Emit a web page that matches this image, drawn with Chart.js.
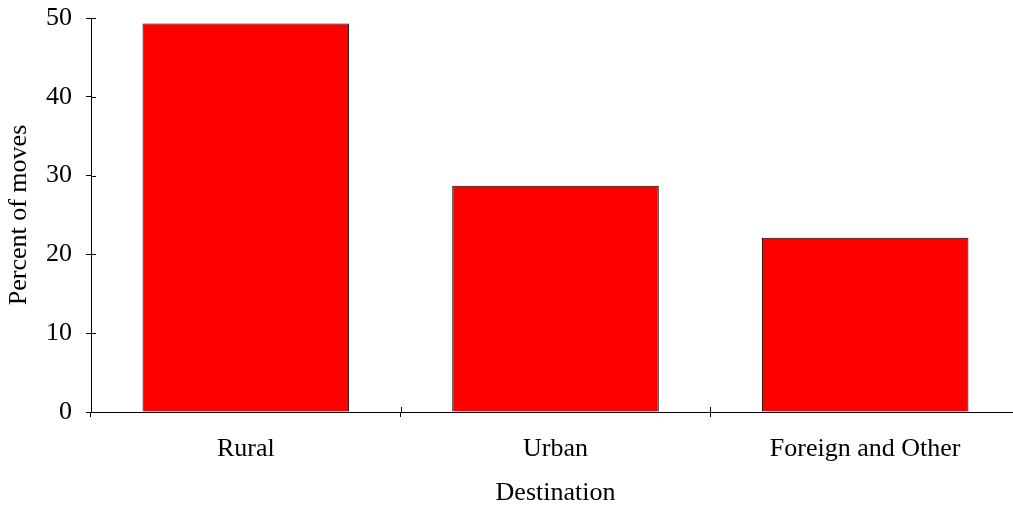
<!DOCTYPE html>
<html>
<head>
<meta charset="utf-8">
<script src="https://cdn.jsdelivr.net/npm/chart.js@4/dist/chart.umd.min.js"></script>
<style>
  html, body { margin: 0; padding: 0; background: #fff; overflow: hidden; }
  #wrap { width: 1020px; height: 506px; position: relative; }
</style>
</head>
<body>
<div id="wrap"><canvas id="c"></canvas></div>
<script>
// Share of moves by destination
const categories = ['Rural', 'Urban', 'Foreign and Other'];
const percentOfMoves = [49.3, 28.7, 22.1];
const yTicks = [0, 10, 20, 30, 40, 50];

const FONT = 'Liberation Serif, Times New Roman, serif';

// Draws the inner half of each tick so the marks cross the axis lines
const crossTicks = {
  id: 'crossTicks',
  afterDraw(chart) {
    const ctx = chart.ctx;
    const x = chart.scales.x, y = chart.scales.y;
    ctx.save();
    ctx.strokeStyle = '#000';
    ctx.lineWidth = 1;
    ctx.beginPath();
    yTicks.forEach(v => {
      const py = Math.round(y.getPixelForValue(v)) + 0.5;
      ctx.moveTo(x.left, py);
      ctx.lineTo(x.left + 5, py);
    });
    const step = x.getPixelForValue(1) - x.getPixelForValue(0);
    for (let i = 1; i < categories.length; i++) {
      const px = Math.round(x.getPixelForValue(i) - step / 2) + 0.5;
      ctx.moveTo(px, y.bottom);
      ctx.lineTo(px, y.bottom - 5);
    }
    ctx.stroke();
    ctx.restore();
  }
};

new Chart(document.getElementById('c'), {
  type: 'bar',
  data: {
    labels: categories,
    datasets: [{
      data: percentOfMoves,
      backgroundColor: '#ff0000',
      borderColor: '#000',
      borderWidth: 1,
      barPercentage: 1,
      categoryPercentage: 0.667
    }]
  },
  options: {
    responsive: true,
    maintainAspectRatio: false,
    animation: false,
    layout: { padding: { top: 18, right: 0, bottom: 0, left: 0 } },
    plugins: { legend: { display: false }, tooltip: { enabled: false } },
    scales: {
      x: {
        offset: true,
        grid: { display: true, drawOnChartArea: false, offset: true, tickLength: 5, tickColor: '#000', lineWidth: 1 },
        border: { color: '#000', width: 1 },
        ticks: { color: '#000', padding: 17, font: { family: FONT, size: 26 }, maxRotation: 0 },
        title: { display: true, text: 'Destination', color: '#000', font: { family: FONT, size: 26, lineHeight: 1 }, padding: { top: 0, bottom: 0 } },
        afterFit(scale) { scale.height = 94; scale.paddingLeft = 0; scale.paddingRight = 0; }
      },
      y: {
        min: 0,
        max: 50,
        grid: { display: true, drawOnChartArea: false, tickLength: 5, tickColor: '#000', lineWidth: 1 },
        border: { color: '#000', width: 1 },
        ticks: { stepSize: 10, color: '#000', padding: 14, font: { family: FONT, size: 26 } },
        title: { display: true, text: 'Percent of moves', color: '#000', font: { family: FONT, size: 26, lineHeight: 1.2 }, padding: { top: 4, bottom: 4 } },
        afterFit(scale) { scale.width = 91; scale.paddingTop = 0; scale.paddingBottom = 0; }
      }
    }
  },
  plugins: [crossTicks]
});
</script>
</body>
</html>
